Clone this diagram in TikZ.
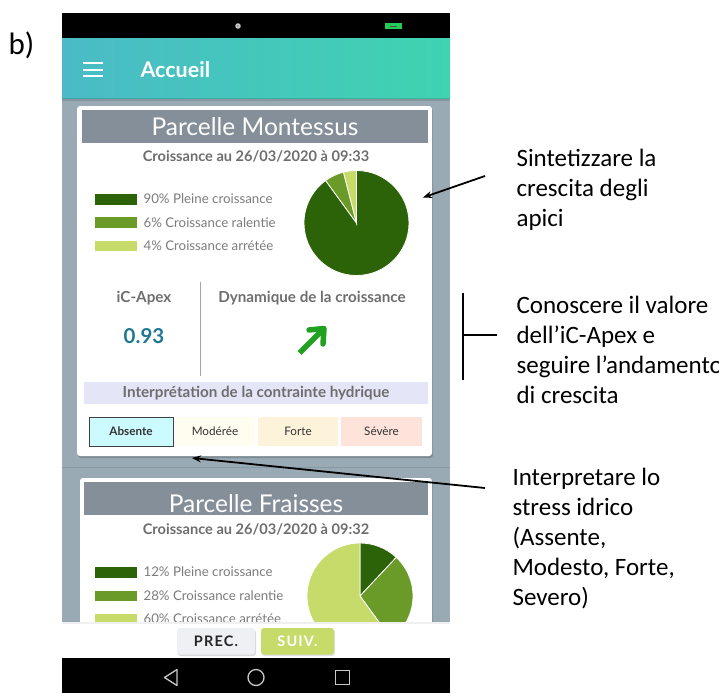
\documentclass[tikz,border=0pt]{standalone}
\usepackage{fontspec}
\newfontfamily\appfont{Lato}
\newfontfamily\btnfont{Lato}[LetterSpace=8]
\newfontfamily\notefont{Carlito}
\usetikzlibrary{arrows.meta}
\newcommand\fsz[1]{\fontsize{#1}{#1}\selectfont}
\definecolor{screenbg}{HTML}{99AAB4}
\definecolor{sepline}{HTML}{869AA4}
\definecolor{tealL}{HTML}{4ABBC6}
\definecolor{tealR}{HTML}{3FD3B1}
\definecolor{battery}{HTML}{22CC55}
\definecolor{titlebar}{HTML}{858F99}
\definecolor{subgray}{HTML}{6E6E6E}
\definecolor{leggray}{HTML}{7C7C7C}
\definecolor{gDark}{HTML}{2C6208}
\definecolor{gMid}{HTML}{6A9A27}
\definecolor{gLight}{HTML}{C6DB6A}
\definecolor{apexblue}{HTML}{1F7893}
\definecolor{trendgreen}{HTML}{22A020}
\definecolor{interpbg}{HTML}{E5E5F8}
\definecolor{absbg}{HTML}{CCFBFF}
\definecolor{modbg}{HTML}{FFFDF0}
\definecolor{fortebg}{HTML}{FDF3DB}
\definecolor{sevbg}{HTML}{FDE3D9}
\definecolor{precbg}{HTML}{EEF0F4}
\definecolor{navgray}{HTML}{C8C8C8}
\tikzset{
  cardtitle/.style={text=white, font=\appfont\fsz{24.5}},
  cardsub/.style={text=subgray, font=\appfont\bfseries\fsz{14.6}},
  legtext/.style={anchor=west, text=leggray, font=\appfont\fsz{13.3}},
  secthead/.style={text=subgray, font=\appfont\bfseries\fsz{15.2}},
  levelbtn/.style={font=\appfont\fsz{11.7}, text=black!80},
  note/.style={anchor=west, align=left, font=\notefont\fontsize{25}{30}\selectfont, text=black},
  callout/.style={line width=1.8pt, -{Stealth[length=9pt,width=7pt]}},
  pieedge/.style={draw=white, line width=0.8pt},
}
\begin{document}
\begin{tikzpicture}[x=1pt,y=-1pt]
\useasboundingbox (0,0) rectangle (719,693);
\clip (0,0) rectangle (719,693);

% figure label
\node[anchor=west, font=\notefont\fsz{31}] (figlabel) at (5,45) {b)};

% screen background
\fill[screenbg] (62,98) rectangle (450,622);

% status bar
\fill[black] (62,13) rectangle (450,39);
\fill[gray!45] (238,26) circle (2.8);
\fill[gray!80] (238,26) circle (1.2);
\fill[battery] (385,23) rectangle (402,29.5);
\draw[black!70, line width=0.8pt] (390,26.2) -- (397,26.2);

% app bar
\shade[left color=tealL, right color=tealR] (62,39) rectangle (450,98);
\fill[black, opacity=0.12] (62,98) rectangle (450,101);
\draw[white, line width=2pt] (83,63) -- (103,63) (83,69.5) -- (103,69.5) (83,76) -- (103,76);
\node[anchor=west, text=white, font=\appfont\bfseries\fsz{21.5}] (apptitle) at (137,70) {Accueil};

% ---------------- card 1 ----------------
\fill[black, opacity=0.18, rounded corners=3pt] (78,107.5) rectangle (433,458);
\fill[white, rounded corners=3pt] (77,106) rectangle (432,456);
\fill[titlebar] (82,110) rectangle (428,143);
\node[cardtitle] (title1) at (255,127) {Parcelle Montessus};
\node[cardsub] (sub1) at (256,156) {Croissance au 26/03/2020 à 09:33};

\fill[gDark]  (95,194) rectangle (137,204.5);
\fill[gMid]   (95,217) rectangle (137,227.5);
\fill[gLight] (95,240.5) rectangle (137,251);
\node[legtext] (leg1a) at (140,199) {90\% Pleine croissance};
\node[legtext] (leg1b) at (140,222.5) {6\% Croissance ralentie};
\node[legtext] (leg1c) at (140,245.5) {4\% Croissance arrétée};

% pie: angles are measured with the y axis pointing down
\coordinate (pie1) at (356.5,223);
\fill[gDark,  pieedge] (pie1) -- ++(-90:52.5) arc[start angle=-90, end angle=234, radius=52.5] -- cycle;
\fill[gMid,   pieedge] (pie1) -- ++(234:52.5) arc[start angle=234, end angle=255.6, radius=52.5] -- cycle;
\fill[gLight, pieedge] (pie1) -- ++(255.6:52.5) arc[start angle=255.6, end angle=270, radius=52.5] -- cycle;

\node[secthead] (apexhead) at (144,298) {iC-Apex};
\node[text=apexblue, font=\appfont\bfseries\fsz{20.5}] (apexval) at (144,336) {0.93};
\draw[gray!70, line width=1pt] (200,282) -- (200,376);
\node[secthead] (dynhead) at (312,298) {Dynamique de la croissance};
\coordinate (trendA) at (299.5,353);
\coordinate (trendB) at (322.5,330);
\draw[trendgreen, line width=5.5pt] (trendA) -- (trendB);
\draw[trendgreen, line width=5.5pt, line join=round, line cap=round] (309,330) -- (324,328.5) -- (323,344);

\fill[interpbg] (84,382) rectangle (428,404);
\node[secthead] (interp) at (256,393) {Interprétation de la contrainte hydrique};

\fill[absbg] (89,417) rectangle (173,446);
\draw[black!75, line width=1pt] (89,417) rectangle (173,446);
\node[levelbtn, font=\appfont\bfseries\fsz{11.7}] (absente) at (131,431.5) {Absente};
\fill[modbg] (175,417) rectangle (255,446);
\node[levelbtn] (moderee) at (215,431.5) {Modérée};
\fill[fortebg] (258,417) rectangle (338,446);
\node[levelbtn] (forte) at (298,431.5) {Forte};
\fill[sevbg] (341,417) rectangle (422,446);
\node[levelbtn] (severe) at (381.5,431.5) {Sévère};

% divider between cards
\draw[sepline, line width=1pt] (62,467) -- (450,467);

% ---------------- card 2 ----------------
\fill[black, opacity=0.18, rounded corners=3pt] (81,479.5) rectangle (433,640);
\fill[white, rounded corners=3pt] (80,478) rectangle (432,640);
\fill[titlebar] (84,482) rectangle (428,515);
\node[cardtitle] (title2) at (256,504) {Parcelle Fraisses};
\node[cardsub] (sub2) at (256,529) {Croissance au 26/03/2020 à 09:32};

\fill[gDark]  (95,567) rectangle (137,577.5);
\fill[gMid]   (95,590.5) rectangle (137,601);
\fill[gLight] (95,613.5) rectangle (137,624);
\node[legtext] (leg2a) at (140,572) {12\% Pleine croissance};
\node[legtext] (leg2b) at (140,595.5) {28\% Croissance ralentie};
\node[legtext] (leg2c) at (140,618.5) {60\% Croissance arrétée};

\coordinate (pie2) at (360,596);
\fill[gDark,  pieedge] (pie2) -- ++(-90:53) arc[start angle=-90, end angle=-46.8, radius=53] -- cycle;
\fill[gMid,   pieedge] (pie2) -- ++(-46.8:53) arc[start angle=-46.8, end angle=54, radius=53] -- cycle;
\fill[gLight, pieedge] (pie2) -- ++(54:53) arc[start angle=54, end angle=270, radius=53] -- cycle;

% bottom button bar
\fill[white] (62,622) rectangle (450,658);
\fill[black, opacity=0.06] (62,622) rectangle (450,623.5);
\fill[black, opacity=0.15, rounded corners=3pt] (177.5,629.5) rectangle (256,656);
\fill[precbg, rounded corners=3pt] (177,628) rectangle (255,654.5);
\node[text=black!85, font=\btnfont\bfseries\fsz{14.5}] (prec) at (216,641.5) {PREC.};
\fill[black, opacity=0.12, rounded corners=3pt] (261.5,629.5) rectangle (335,656);
\fill[gLight, rounded corners=3pt] (261,628) rectangle (334,654.5);
\node[text=white, font=\btnfont\bfseries\fsz{14.5}] (suiv) at (297.5,641.5) {SUIV.};

% navigation bar
\fill[black] (62,658) rectangle (450,693);
\draw[navgray, line width=1.3pt, line join=round] (177,669.5) -- (164.5,677.5) -- (177,685.5) -- cycle;
\draw[navgray, line width=1.3pt] (256,677.5) circle (8);
\draw[navgray, line width=1.3pt] (335.5,670.5) rectangle (349.5,684.5);

% ---------------- annotations ----------------
\node[note] (noteA) at (513,190) {Sintetizzare la\\crescita degli\\apici};
\node[note] (noteB) at (513,350) {Conoscere il valore\\dell’iC-Apex e\\seguire l’andamento\\di crescita};
\node[note] (noteC) at (509,538.5) {Interpretare lo\\stress idrico\\(Assente,\\Modesto, Forte,\\Severo)};

\coordinate (calloutA) at (485,176);
\coordinate (targetA) at (423,197.5);
\draw[callout] (calloutA) -- (targetA);

\coordinate (bracketTop) at (463,293);
\coordinate (bracketBot) at (463,380);
\coordinate (bracketMid) at (463,335);
\coordinate (bracketTip) at (497,335);
\draw[line width=1.8pt] (bracketTop) -- (bracketBot);
\draw[line width=1.8pt] (bracketMid) -- (bracketTip);

\coordinate (calloutC) at (485,488);
\coordinate (targetC) at (192,458);
\draw[callout] (calloutC) -- (targetC);
\end{tikzpicture}
\end{document}
